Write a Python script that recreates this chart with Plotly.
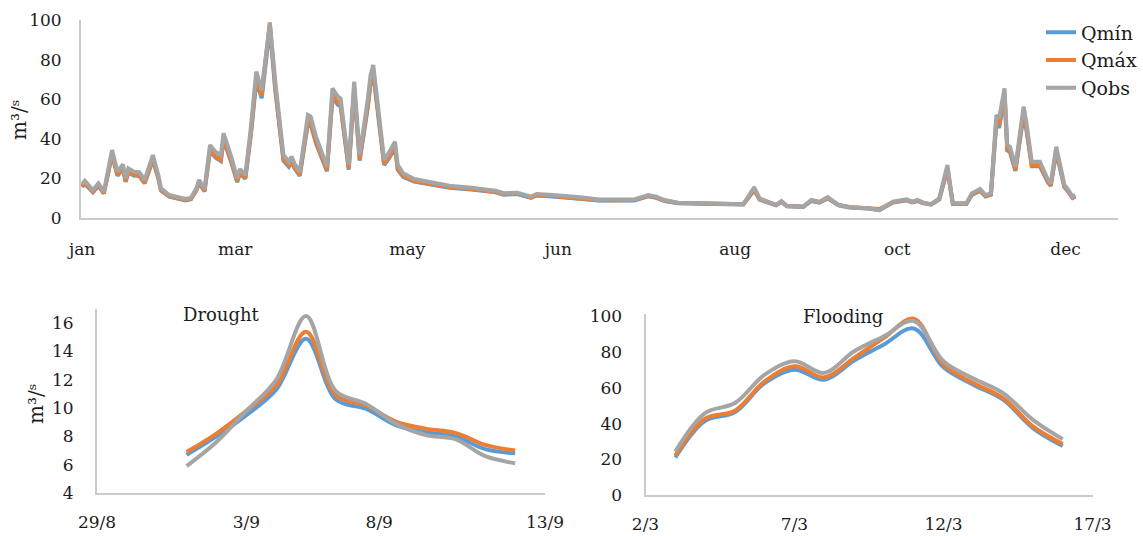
import plotly.graph_objects as go

W, H = 1143, 536

# ---------------- annual series (day of year) ----------------
days = [0, 1, 4, 6, 8, 11, 13, 15, 16, 17, 19, 21, 23, 26, 28, 29, 32, 34, 38, 40,
        42, 43, 45, 47, 49, 51, 52, 55, 57, 58, 60, 62, 64, 66, 69, 71, 74, 76, 77, 78,
        80, 83, 84, 86, 87, 90, 92, 94, 95, 98, 100, 102, 105, 106, 107, 111, 113, 115, 116, 118,
        122, 128, 135, 143, 148, 152, 155, 160, 165, 167, 173, 178, 184, 190, 196, 203, 208, 211, 214, 219,
        227, 233, 243, 247, 249, 255, 257, 259, 265, 268, 271, 274, 278, 282, 289, 293, 298, 303, 305, 307,
        309, 312, 315, 318, 320, 325, 327, 330, 332, 334, 336, 337, 339, 340, 341, 343, 346, 347, 349, 352,
        355, 356, 358, 361, 362, 364, 365]

q_obs = [17.0, 18.8, 14.1, 17.5, 13.3, 34.3, 23.4, 27.1, 20.0, 25.1, 23.4, 23.1, 19.2, 31.8, 21.7, 15.0, 11.6, 10.8, 9.6, 10.2,
         15.0, 19.2, 14.5, 36.9, 33.5, 31.8, 42.8, 30.1, 20.0, 24.7, 21.7, 45.3, 73.9, 64.6, 98.3, 68.9, 31.8, 28.4, 31.0, 27.6,
         23.4, 52.0, 51.2, 41.0, 36.9, 25.9, 65.5, 61.3, 60.4, 26.8, 68.9, 31.8, 60.0, 72.0, 77.3, 29.3, 33.5, 38.5, 26.8, 22.6,
         19.7, 18.3, 16.3, 15.3, 14.5, 13.8, 12.5, 12.8, 10.8, 12.1, 11.6, 10.8, 10.3, 9.4, 9.4, 9.4, 11.6, 10.8, 9.1, 7.7,
         7.4, 7.1, 6.9, 15.5, 9.9, 6.6, 8.6, 6.1, 5.7, 9.1, 8.2, 10.5, 6.6, 5.4, 4.9, 4.0, 8.2, 9.4, 8.3, 9.1,
         7.9, 6.9, 9.9, 26.8, 7.4, 7.4, 12.5, 14.6, 11.6, 12.5, 52.0, 50.3, 65.5, 36.9, 36.0, 25.9, 56.2, 48.6, 28.4, 28.4,
         19.2, 17.5, 36.0, 16.7, 15.0, 10.8, 11.6]

q_max = [16.0, 17.8, 13.3, 16.6, 12.6, 32.5, 21.8, 25.6, 18.6, 23.6, 21.9, 21.6, 17.9, 29.9, 20.4, 14.2, 11.0, 10.2, 9.1, 9.7,
         14.2, 18.1, 13.7, 34.8, 31.2, 29.4, 40.3, 28.0, 18.6, 23.2, 20.3, 42.7, 70.5, 62.0, 98.8, 66.0, 29.8, 26.6, 29.0, 25.8,
         21.9, 49.0, 48.4, 38.5, 34.6, 24.2, 62.0, 58.5, 57.6, 25.0, 66.0, 29.8, 57.0, 69.0, 74.5, 27.4, 31.4, 36.2, 25.0, 21.3,
         18.7, 17.5, 15.6, 14.7, 13.9, 13.2, 12.0, 12.3, 10.4, 11.6, 11.1, 10.4, 9.9, 9.0, 9.0, 9.1, 11.2, 10.4, 8.8, 7.6,
         7.4, 7.2, 7.0, 14.5, 9.5, 6.6, 8.3, 6.1, 5.8, 8.8, 8.0, 10.1, 6.6, 5.6, 5.2, 4.5, 8.0, 9.1, 8.1, 8.8,
         7.7, 7.0, 9.6, 25.0, 7.3, 7.3, 12.0, 14.0, 11.1, 12.0, 49.5, 47.0, 63.0, 35.0, 34.2, 24.4, 53.5, 46.0, 26.8, 26.8,
         18.2, 16.6, 34.2, 15.9, 14.3, 10.3, 11.1]

q_min = [15.6, 17.3, 13.0, 16.2, 12.3, 31.8, 21.3, 25.0, 18.2, 23.0, 21.4, 21.2, 17.5, 29.3, 20.0, 13.9, 10.8, 10.0, 8.9, 9.5,
         13.9, 17.7, 13.4, 34.0, 30.5, 28.7, 39.4, 27.3, 18.1, 22.6, 19.8, 41.6, 69.0, 60.5, 96.0, 64.5, 29.0, 25.9, 28.3, 25.2,
         21.3, 48.0, 47.3, 37.6, 33.8, 23.6, 60.7, 57.2, 56.4, 24.4, 64.6, 29.0, 55.8, 67.5, 72.8, 26.7, 30.6, 35.3, 24.4, 20.8,
         18.4, 17.2, 15.3, 14.4, 13.7, 13.0, 11.8, 12.1, 10.2, 11.4, 10.9, 10.2, 9.7, 8.8, 8.9, 8.9, 11.0, 10.2, 8.6, 7.4,
         7.2, 7.0, 6.8, 14.0, 9.3, 6.4, 8.1, 5.9, 5.6, 8.6, 7.8, 9.9, 6.4, 5.3, 4.8, 4.0, 7.8, 8.9, 7.9, 8.6,
         7.5, 6.8, 9.4, 24.4, 7.1, 7.1, 11.7, 13.7, 10.9, 11.7, 48.0, 45.5, 61.5, 34.2, 33.3, 23.8, 52.0, 44.8, 26.1, 26.1,
         17.8, 16.2, 33.3, 15.5, 14.0, 10.1, 10.8]

month_ticks = [0, 56.3, 119.5, 175, 240, 299.6, 361.4]
month_labels = ["jan", "mar", "may", "jun", "aug", "oct", "dec"]

# ---------------- drought event (days after 29/8) ----------------
drought_days = [3, 4, 5, 6, 7, 8, 9, 10, 11, 12, 13, 14]
drought_min = [6.7, 8.0, 9.5, 11.3, 14.9, 10.6, 9.95, 8.8, 8.3, 8.0, 7.1, 6.8]
drought_max = [6.9, 8.2, 9.8, 11.6, 15.4, 10.9, 10.2, 9.05, 8.55, 8.25, 7.4, 7.0]
drought_obs = [5.9, 7.6, 9.8, 12.0, 16.5, 11.2, 10.3, 8.9, 8.1, 7.8, 6.6, 6.1]
drought_ticks = [0, 5, 9.45, 15]
drought_labels = ["29/8", "3/9", "8/9", "13/9"]

# ---------------- flooding event (days after 2/3) ----------------
flood_days = [1, 2, 3, 4, 5, 6, 7, 8, 9, 10, 11, 12, 13, 14]
flood_min = [21.0, 41.6, 46.4, 62.7, 70.2, 64.6, 75.3, 84.3, 93.3, 71.5, 61.8, 53.4, 37.5, 27.5]
flood_max = [22.1, 42.7, 47.2, 63.7, 72.1, 65.9, 76.8, 88.0, 98.8, 73.0, 62.7, 54.3, 38.4, 28.5]
flood_obs = [24.3, 45.9, 51.5, 67.4, 74.9, 68.4, 80.5, 88.9, 97.5, 74.9, 65.2, 57.1, 42.1, 31.3]
flood_ticks = [0, 5, 10, 15]
flood_labels = ["2/3", "7/3", "12/3", "17/3"]

names = ["Qmín", "Qmáx", "Qobs"]
colors = ["#5B9BD5", "#ED7D31", "#A5A5A5"]

FONT = "DejaVu Serif"
TXT = "#1c1c1c"
AXC = "#CBCBCB"

fig = go.Figure()

for name, col, ys in zip(names, colors, [q_min, q_max, q_obs]):
    fig.add_trace(go.Scatter(x=days, y=ys, name=name, mode="lines",
                             line=dict(color=col, width=4), xaxis="x", yaxis="y"))

for col, ys in zip(colors, [drought_min, drought_max, drought_obs]):
    fig.add_trace(go.Scatter(x=drought_days, y=ys, mode="lines", showlegend=False,
                             line=dict(color=col, width=4, shape="spline", smoothing=1.0),
                             xaxis="x2", yaxis="y2"))

for col, ys in zip(colors, [flood_min, flood_max, flood_obs]):
    fig.add_trace(go.Scatter(x=flood_days, y=ys, mode="lines", showlegend=False,
                             line=dict(color=col, width=4, shape="spline", smoothing=1.0),
                             xaxis="x3", yaxis="y3"))


def px_x(p):
    return p / W


def px_y(p):
    return 1 - p / H


axis_common = dict(showgrid=False, zeroline=False, showline=True, linecolor=AXC, linewidth=2,
                   ticks="", automargin=False,
                   tickfont=dict(family=FONT, size=17, color=TXT), fixedrange=True)

fig.update_layout(
    width=W, height=H,
    margin=dict(l=0, r=0, t=0, b=0, autoexpand=False),
    paper_bgcolor="white", plot_bgcolor="white",
    font=dict(family=FONT, color=TXT),
    xaxis=dict(domain=[px_x(81), px_x(1118)], range=[-0.4, 380.7], anchor="y",
               tickmode="array", tickvals=month_ticks, ticktext=month_labels,
               ticklabelstandoff=15, **axis_common),
    yaxis=dict(domain=[px_y(218), px_y(20)], range=[0, 100], anchor="x",
               tickmode="array", tickvals=[0, 20, 40, 60, 80, 100],
               ticklabelstandoff=14, **axis_common),
    xaxis2=dict(domain=[px_x(97), px_x(545)], range=[0, 15], anchor="y2",
                tickmode="array", tickvals=drought_ticks, ticktext=drought_labels,
                ticklabelstandoff=13, **axis_common),
    yaxis2=dict(domain=[px_y(493), px_y(309)], range=[4, 17], anchor="x2",
                tickmode="array", tickvals=[4, 6, 8, 10, 12, 14, 16],
                ticklabelstandoff=18, **axis_common),
    xaxis3=dict(domain=[px_x(645.5), px_x(1092.5)], range=[0, 15], anchor="y3",
                tickmode="array", tickvals=flood_ticks, ticktext=flood_labels,
                ticklabelstandoff=13, **axis_common),
    yaxis3=dict(domain=[px_y(495), px_y(313.8)], range=[0, 101.5], anchor="x3",
                tickmode="array", tickvals=[0, 20, 40, 60, 80, 100],
                ticklabelstandoff=18, **axis_common),
    legend=dict(x=px_x(1041), y=px_y(13.5), xanchor="left", yanchor="top",
                bgcolor="rgba(0,0,0,0)", borderwidth=0,
                font=dict(family=FONT, size=19, color=TXT)),
    showlegend=True,
)

ytitle = "m³/ˢ"
fig.add_annotation(text=ytitle, x=px_x(19), y=px_y(120), xref="paper", yref="paper",
                   xanchor="center", yanchor="middle",
                   textangle=-90, showarrow=False, font=dict(family=FONT, size=20, color=TXT))
fig.add_annotation(text=ytitle, x=px_x(36), y=px_y(404), xref="paper", yref="paper",
                   xanchor="center", yanchor="middle",
                   textangle=-90, showarrow=False, font=dict(family=FONT, size=20, color=TXT))
fig.add_annotation(text="Drought", x=px_x(221), y=px_y(314), xref="paper", yref="paper",
                   xanchor="center", yanchor="middle",
                   showarrow=False, font=dict(family=FONT, size=18, color=TXT))
fig.add_annotation(text="Flooding", x=px_x(843), y=px_y(316), xref="paper", yref="paper",
                   xanchor="center", yanchor="middle",
                   showarrow=False, font=dict(family=FONT, size=18, color=TXT))

fig.write_html("out.html")
